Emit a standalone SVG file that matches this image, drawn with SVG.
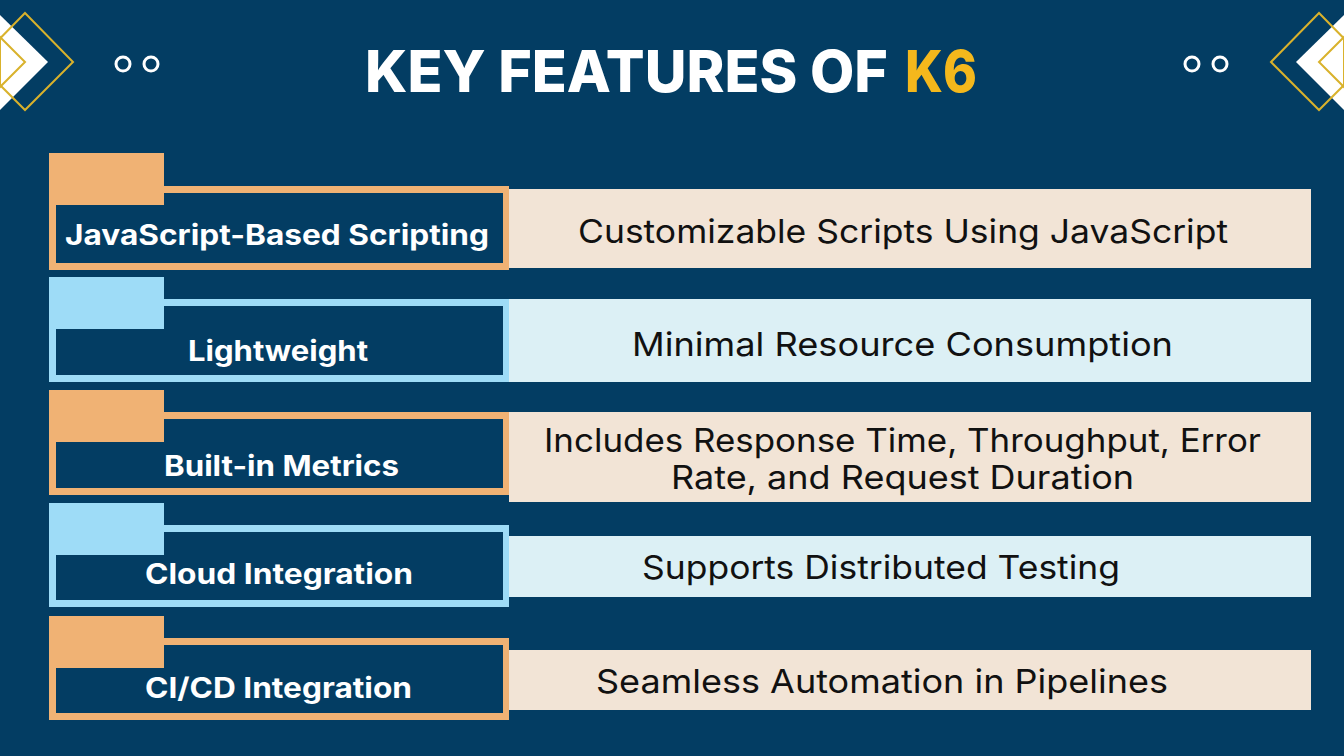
<svg xmlns="http://www.w3.org/2000/svg" width="1344" height="756" viewBox="0 0 1344 756">
<style>
.tab-o{fill:#f0b274}.tab-b{fill:#9edcf7}
.in{fill:#033d63}
.lbl{font-family:Inter,"Open Sans",sans-serif;font-weight:700;font-size:28px;fill:#fff}
.desc{font-family:Inter,"Open Sans",sans-serif;font-weight:400;font-size:33px;fill:#111}
.ttl{font-family:Inter,"Open Sans",sans-serif;font-weight:800;font-size:58px}
.gold{fill:none;stroke:#d9b22c;stroke-width:2}
.dot{fill:none;stroke:#fff;stroke-width:3}
</style>
<rect width="1344" height="756" fill="#033d63"/>
<g id="decor-left">
<polygon points="0,15 48,62 0,110" fill="#fff"/>
<polygon class="gold" points="25,13 73,62 25,110 -23,62"/>
<polygon class="gold" points="0,37 25,62 0,87"/>
<circle class="dot" cx="123" cy="64" r="7"/><circle class="dot" cx="151" cy="64" r="7"/>
</g>
<g id="decor-right" transform="translate(1344,0) scale(-1,1)">
<polygon points="0,15 48,62 0,110" fill="#fff"/>
<polygon class="gold" points="25,13 73,62 25,110 -23,62"/>
<polygon class="gold" points="0,37 25,62 0,87"/>
<circle class="dot" cx="124" cy="64" r="7"/><circle class="dot" cx="152" cy="64" r="7"/>
</g>
<g id="title">
<text class="ttl" x="365" y="92" fill="#fff" textLength="523" lengthAdjust="spacingAndGlyphs">KEY FEATURES OF</text>
<text class="ttl" x="905" y="92" fill="#f4b81c" textLength="72" lengthAdjust="spacingAndGlyphs">K6</text>
</g>
<g id="row1">
<rect x="509" y="189" width="802" height="79" fill="#f2e4d6"/>
<rect class="tab-o" x="49" y="186" width="460" height="84"/>
<rect class="in" x="56" y="193" width="447" height="70"/>
<rect class="tab-o" x="49" y="153" width="115" height="52"/>
<text class="lbl" x="65" y="245" textLength="424" lengthAdjust="spacingAndGlyphs">JavaScript-Based Scripting</text>
<text class="desc" x="578" y="243" textLength="650" lengthAdjust="spacingAndGlyphs">Customizable Scripts Using JavaScript</text>
</g>
<g id="row2">
<rect x="509" y="299" width="802" height="83" fill="#dcf0f5"/>
<rect class="tab-b" x="49" y="299" width="460" height="83"/>
<rect class="in" x="56" y="306" width="447" height="69"/>
<rect class="tab-b" x="49" y="277" width="115" height="52"/>
<text class="lbl" x="188" y="361" textLength="180" lengthAdjust="spacingAndGlyphs">Lightweight</text>
<text class="desc" x="632" y="356" textLength="541" lengthAdjust="spacingAndGlyphs">Minimal Resource Consumption</text>
</g>
<g id="row3">
<rect x="509" y="412" width="802" height="90" fill="#f2e4d6"/>
<rect class="tab-o" x="49" y="412" width="460" height="83"/>
<rect class="in" x="56" y="419" width="447" height="69"/>
<rect class="tab-o" x="49" y="390" width="115" height="52"/>
<text class="lbl" x="164" y="476" textLength="235" lengthAdjust="spacingAndGlyphs">Built-in Metrics</text>
<text class="desc" x="544" y="452" textLength="717" lengthAdjust="spacingAndGlyphs">Includes Response Time, Throughput, Error</text>
<text class="desc" x="671" y="489" textLength="463" lengthAdjust="spacingAndGlyphs">Rate, and Request Duration</text>
</g>
<g id="row4">
<rect x="509" y="536" width="802" height="61" fill="#dcf0f5"/>
<rect class="tab-b" x="49" y="525" width="460" height="82"/>
<rect class="in" x="56" y="532" width="447" height="68"/>
<rect class="tab-b" x="49" y="503" width="115" height="52"/>
<text class="lbl" x="145" y="584" textLength="268" lengthAdjust="spacingAndGlyphs">Cloud Integration</text>
<text class="desc" x="642" y="579" textLength="478" lengthAdjust="spacingAndGlyphs">Supports Distributed Testing</text>
</g>
<g id="row5">
<rect x="509" y="650" width="802" height="60" fill="#f2e4d6"/>
<rect class="tab-o" x="49" y="638" width="460" height="82"/>
<rect class="in" x="56" y="645" width="447" height="68"/>
<rect class="tab-o" x="49" y="616" width="115" height="52"/>
<text class="lbl" x="145" y="698" textLength="267" lengthAdjust="spacingAndGlyphs">CI/CD Integration</text>
<text class="desc" x="596" y="693" textLength="572" lengthAdjust="spacingAndGlyphs">Seamless Automation in Pipelines</text>
</g>
<g id="connectors"/>
</svg>
